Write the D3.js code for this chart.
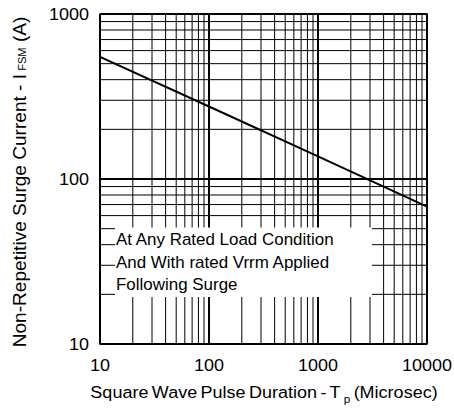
<!DOCTYPE html>
<meta charset="utf-8">
<style>
body { margin: 0; background: white; }
text { font-family: "Liberation Sans", Arial, sans-serif; fill: black; }
</style>
<body>
<script src="https://d3js.org/d3.v7.min.js"></script>
<script>
// values
var pulseUs = [10, 100, 1000, 10000]
var surgeA = [550, 275, 137, 68]

var xTickLabels = ['10', '100', '1000', '10000']
var yTickLabels = ['10', '100', '1000']

var noteLines = ['At Any Rated Load Condition', 'And With rated Vrrm Applied', 'Following Surge']

var width = 454
var height = 408
var plotL = 100, plotR = 427, plotT = 14, plotB = 344
var sx = 1.06 // reference glyphs are a bit wider than Arial

var x = d3.scaleLog().domain([10, 10000]).range([plotL, plotR])
var y = d3.scaleLog().domain([10, 1000]).range([plotB, plotT])

var svg = d3.select('body')
    .append('svg')
    .attr('width', width)
    .attr('height', height)

function isDecade(v) {
    var l = Math.log10(v)
    return Math.abs(l - Math.round(l)) < 1e-9
}

function place(sel, px, py, extra) {
    sel.attr('transform', 'translate(' + px + ',' + py + ')' + (extra || '') + ' scale(' + sx + ',1)')
}

// grid
var grid = svg.append('g')

grid.selectAll('.vx')
    .data(x.ticks())
    .enter().append('line')
    .attr('x1', function (d) { return x(d) })
    .attr('x2', function (d) { return x(d) })
    .attr('y1', plotT)
    .attr('y2', plotB)
    .attr('stroke', 'black')
    .attr('stroke-width', function (d) { return isDecade(d) ? 2 : 1 })

grid.selectAll('.hy')
    .data(y.ticks())
    .enter().append('line')
    .attr('x1', plotL)
    .attr('x2', plotR)
    .attr('y1', function (d) { return y(d) })
    .attr('y2', function (d) { return y(d) })
    .attr('stroke', 'black')
    .attr('stroke-width', function (d) { return isDecade(d) ? 2 : 1 })

// note box blanks out the grid
var boxX0 = 115, boxX1 = 372, boxY0 = 227.5, boxY1 = 297
svg.append('rect')
    .attr('x', boxX0)
    .attr('y', boxY0)
    .attr('width', boxX1 - boxX0)
    .attr('height', boxY1 - boxY0)
    .attr('fill', 'white')

svg.selectAll('.note')
    .data(noteLines)
    .enter().append('text')
    .attr('font-size', 16)
    .text(function (d) { return d })
    .each(function (d, i) { place(d3.select(this), 116, 245 + i * 22.7) })

// frame
svg.append('rect')
    .attr('x', plotL)
    .attr('y', plotT)
    .attr('width', plotR - plotL)
    .attr('height', plotB - plotT)
    .attr('fill', 'none')
    .attr('stroke', 'black')
    .attr('stroke-width', 1.5)

// surge curve
var line = d3.line()
    .x(function (d, i) { return x(pulseUs[i]) })
    .y(function (d) { return y(d) })

svg.append('path')
    .datum(surgeA)
    .attr('d', line)
    .attr('fill', 'none')
    .attr('stroke', 'black')
    .attr('stroke-width', 2)

// tick labels
svg.selectAll('.xt')
    .data(xTickLabels)
    .enter().append('text')
    .attr('font-size', 17)
    .attr('text-anchor', 'middle')
    .text(function (d) { return d })
    .each(function (d) { place(d3.select(this), x(+d), 371) })

svg.selectAll('.yt')
    .data(yTickLabels)
    .enter().append('text')
    .attr('font-size', 17)
    .attr('text-anchor', 'end')
    .attr('dy', '0.36em')
    .text(function (d) { return d })
    .each(function (d) { place(d3.select(this), 89, y(+d)) })

// axis titles
var xt = svg.append('text')
    .attr('font-size', 17)
    .attr('text-anchor', 'middle')
    .attr('word-spacing', -1.5)
xt.append('tspan').text('Square Wave Pulse Duration - T')
xt.append('tspan').attr('font-size', 11).attr('dy', 5).attr('dx', 3).text('p')
xt.append('tspan').attr('dy', -5).text(' (Microsec)')
place(xt, 264, 398)

var yt = svg.append('text')
    .attr('font-size', 18)
    .attr('text-anchor', 'middle')
yt.append('tspan').text('Non-Repetitive Surge Current - I')
yt.append('tspan').attr('font-size', 10.5).text(' FSM')
yt.append('tspan').text(' (A)')
place(yt, 26, 182, ' rotate(-90)')
</script>
</body>
